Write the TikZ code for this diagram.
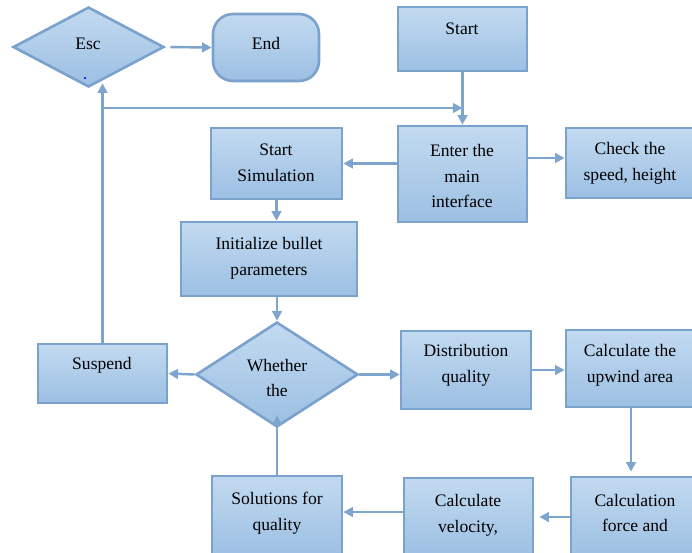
\documentclass[tikz,border=0pt]{standalone}
\usepackage{fontspec}
\setmainfont{Liberation Serif}
\usetikzlibrary{shapes.geometric,arrows.meta}
\definecolor{azulclaro}{HTML}{C2DAF0}
\definecolor{azulmedio}{HTML}{9CBFE3}
\definecolor{azulborde}{HTML}{7BA2CC}
\definecolor{azulflecha}{HTML}{7EA5CE}
\begin{document}
\begin{tikzpicture}[x=0.02cm,y=-0.02cm,>={Triangle[length=5.5pt,width=5.5pt]},
    caja/.style={draw=azulborde,line width=1.5pt,top color=azulclaro,bottom color=azulmedio,inner sep=0pt},
    rombo/.style={caja,diamond},
    texto/.style={align=center,inner sep=0pt,font=\fontsize{10}{14.7}\selectfont,text=black},
    flecha/.style={->,draw=azulflecha,line width=1.4pt}]

        % Marco
        \useasboundingbox (0,0) rectangle (692,552);
        \clip (0,0) rectangle (692,552);

        % Cajas
        \node[rombo,minimum width=3.02cm,minimum height=1.6cm] (esc) at (88.5,47) {};
        \node[caja,rounded corners=0.4cm,minimum width=2.12cm,minimum height=1.34cm] (end) at (266,47.5) {};
        \node[caja,minimum width=2.58cm,minimum height=1.28cm] (start) at (462.5,39) {};
        \node[caja,minimum width=2.58cm,minimum height=1.92cm] (enter) at (462.5,174) {};
        \node[caja,minimum width=2.6cm,minimum height=1.4cm] (check) at (631,163) {};
        \node[caja,minimum width=2.62cm,minimum height=1.42cm] (sim) at (276.5,163.5) {};
        \node[caja,minimum width=3.52cm,minimum height=1.48cm] (init) at (269,259) {};
        \node[rombo,minimum width=3.24cm,minimum height=2.1cm] (whether) at (277,374.5) {};
        \node[caja,minimum width=2.58cm,minimum height=1.18cm] (suspend) at (102.5,373.5) {};
        \node[caja,minimum width=2.6cm,minimum height=1.56cm] (dist) at (466,370) {};
        \node[caja,minimum width=2.6cm,minimum height=1.54cm] (upwind) at (631,368.5) {};
        \node[caja,minimum width=2.6cm,minimum height=1.6cm] (force) at (636,517) {};
        \node[caja,minimum width=2.58cm,minimum height=1.6cm] (vel) at (468.5,518) {};
        \node[caja,minimum width=2.6cm,minimum height=1.6cm] (sol) at (277,516) {};

        % Textos
        \node[texto] (tesc) at (88,44) {Esc};
        \node[texto] (tend) at (266,43) {End};
        \node[texto] (tstart) at (462,29) {Start};
        \node[texto] (tenter) at (462,176) {Enter the\\main\\interface};
        \node[texto] (tcheck) at (630,163.5) {Check the\\speed, height};
        \node[texto] (tsim) at (276,163) {Start\\Simulation};
        \node[texto] (tinit) at (269,258) {Initialize bullet\\parameters};
        \node[texto] (tsuspend) at (102,365) {Suspend};
        \node[texto] (tdist) at (466,365.5) {Distribution\\quality};
        \node[texto] (tupwind) at (630,365) {Calculate the\\upwind area};
        \node[texto] (tforce) at (635,513) {Calculation\\force and};
        \node[texto] (tvel) at (468,515) {Calculate\\velocity,};
        \node[texto] (tsol) at (277,513.5) {Solutions for\\quality};
        \begin{scope}
            \clip (196,330) rectangle (358,395);
            \node[texto] (twhether) at (277,378) {Whether\\the};
        \end{scope}
        \fill[blue] (85,78) circle (0.6pt);

        % Flechas
        \draw[flecha,shorten <=0.1cm] (esc.east) -- (end.west);
        \draw[flecha] (start.south) -- (enter.north);
        \draw[flecha] (enter.west |- sim.east) -- (sim.east);
        \draw[flecha] ([yshift=0.1cm]enter.east |- check.west) -- ([yshift=0.1cm]check.west);
        \draw[flecha] (sim.south) -- (sim.south |- init.north);
        \draw[flecha] (whether.north |- init.south) -- (whether.north);
        \draw[flecha] (whether.west) -- (suspend.east);
        \draw[flecha] (whether.east) -- (dist.west |- whether.east);
        \draw[flecha] (dist.east) -- (upwind.west |- dist.east);
        \draw[flecha,shorten >=0.08cm] (upwind.south) -- (upwind.south |- force.north);
        \draw[flecha,shorten >=0.1cm] (force.west) -- (vel.east |- force.west);
        \draw[flecha] ([yshift=0.12cm]vel.west) -- ([yshift=0.12cm]sol.east |- vel.west);
        \draw[flecha] (sol.north) -- ([yshift=0.26cm]whether.south);

        % Retorno a Esc y a la interfaz
        \draw[flecha] (suspend.north) -- ([yshift=0.1cm]suspend.north |- esc.south);
        \coordinate (rama) at (suspend.north |- 0,108);
        \draw[flecha] (rama) -- (rama -| enter.north);
    \end{tikzpicture}
\end{document}
